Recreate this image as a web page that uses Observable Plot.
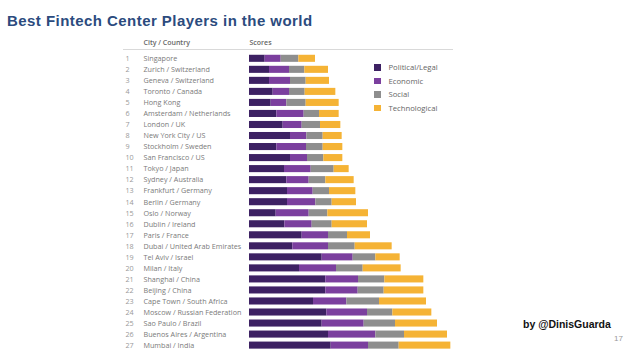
<!DOCTYPE html>
<html><head><meta charset="utf-8">
<script src="https://cdn.jsdelivr.net/npm/d3@7"></script>
<script src="https://cdn.jsdelivr.net/npm/@observablehq/plot@0.6"></script>
<style>
body{margin:0;background:#fff;width:638px;height:359px;position:relative;overflow:hidden;font-family:"Liberation Sans",Arial,sans-serif;}
#title{position:absolute;left:7px;top:12.8px;line-height:1;font-weight:bold;font-size:15px;letter-spacing:0.45px;color:#2b4b7e;white-space:nowrap;}
#chart{position:absolute;left:0;top:34px;}
#legend{position:absolute;left:374px;top:60.5px;font-family:"Open Sans",sans-serif;font-size:7.7px;color:#666;}
.item{display:flex;align-items:center;height:13.5px;white-space:nowrap;}
.sw{width:6.5px;height:6.5px;margin-right:8px;flex:none;}
#by{position:absolute;left:523px;top:319.4px;line-height:1;font-weight:bold;font-size:10.5px;color:#111;white-space:nowrap;}
#page{position:absolute;left:614px;top:335px;line-height:1;font-size:8px;color:#999;}
</style></head><body>
<div id="title">Best Fintech Center Players in the world</div>
<div id="chart"></div>
<div id="legend"></div>
<div id="by">by @DinisGuarda</div>
<div id="page">17</div>
<script>
const cities = ["Singapore","Zurich / Switzerland","Geneva / Switzerland","Toronto / Canada","Hong Kong","Amsterdam / Netherlands","London / UK","New York City / US","Stockholm / Sweden","San Francisco / US","Tokyo / Japan","Sydney / Australia","Frankfurt / Germany","Berlin / Germany","Oslo / Norway","Dublin / Ireland","Paris / France","Dubai / United Arab Emirates","Tel Aviv / Israel","Milan / Italy","Shanghai / China","Beijing / China","Cape Town / South Africa","Moscow / Russian Federation","Sao Paulo / Brazil","Buenos Aires / Argentina","Mumbai / India"];
const categories = ["Political/Legal","Economic","Social","Technological"];
const colors = ["#3d2163","#7b3f9e","#8e8e8e","#f5b335"];
const political = [47,60,60,71,65,82,101,123,82,123,105,112,114,114,80,106,158,130,218,150,229,229,192,232,218,237,245];
const economic = [48,60,63,49,47,82,57,49,89,51,80,67,77,85,99,82,79,107,93,111,98,97,100,122,126,142,112];
const social = [53,46,47,47,58,46,55,49,50,49,69,50,49,49,56,60,57,80,68,80,79,78,98,76,94,86,92];
const technological = [50,71,70,92,99,59,61,57,59,57,45,85,79,73,122,106,69,111,73,114,117,119,141,117,126,129,155];
const series = [political, economic, social, technological];

const rows = [];
cities.forEach((c, i) => {
  let acc = 0;
  categories.forEach((k, j) => {
    const v = series[j][i];
    rows.push({rank: i + 1, city: c, cat: k, x1: acc, x2: acc + v});
    acc += v;
  });
});
const labels = cities.map((c, i) => ({rank: i + 1, city: c}));

const chart = Plot.plot({
  width: 638, height: 325,
  marginLeft: 249, marginRight: 189, marginTop: 0, marginBottom: 0,
  x: {domain: [0, 600], axis: null},
  y: {domain: [-1.203, 28.26], range: [0, 325], axis: null},
  color: {domain: categories, range: colors},
  style: {fontFamily: "'Open Sans', sans-serif", background: "transparent", overflow: "visible"},
  marks: [
    Plot.ruleY([0.157], {x1: () => -378, x2: () => 612, stroke: "#cfcfcf", strokeWidth: 0.8}),
    Plot.text(["City / Country"], {frameAnchor: "left", dx: -106, y: () => -0.43, text: d => d, textAnchor: "start", fill: "#666", fontSize: 7, fontWeight: 600}),
    Plot.text(["Scores"], {frameAnchor: "left", dx: 0, y: () => -0.43, text: d => d, textAnchor: "start", fill: "#666", fontSize: 7, fontWeight: 600}),
    Plot.text(labels, {frameAnchor: "left", dx: -124, y: "rank", text: d => String(d.rank), textAnchor: "start", fill: "#999", fontSize: 7.2}),
    Plot.text(labels, {frameAnchor: "left", dx: -106, y: "rank", text: "city", textAnchor: "start", fill: "#7a7a7a", fontSize: 7.2}),
    Plot.rect(rows, {x1: "x1", x2: "x2", y1: d => d.rank - 0.32, y2: d => d.rank + 0.32, fill: "cat"})
  ]
});
document.getElementById("chart").appendChild(chart);

const legend = document.getElementById("legend");
categories.forEach((k, j) => {
  const it = document.createElement("div");
  it.className = "item";
  const sw = document.createElement("span");
  sw.className = "sw";
  sw.style.background = colors[j];
  const lb = document.createElement("span");
  lb.textContent = k;
  it.appendChild(sw); it.appendChild(lb);
  legend.appendChild(it);
});
</script>
</body></html>
